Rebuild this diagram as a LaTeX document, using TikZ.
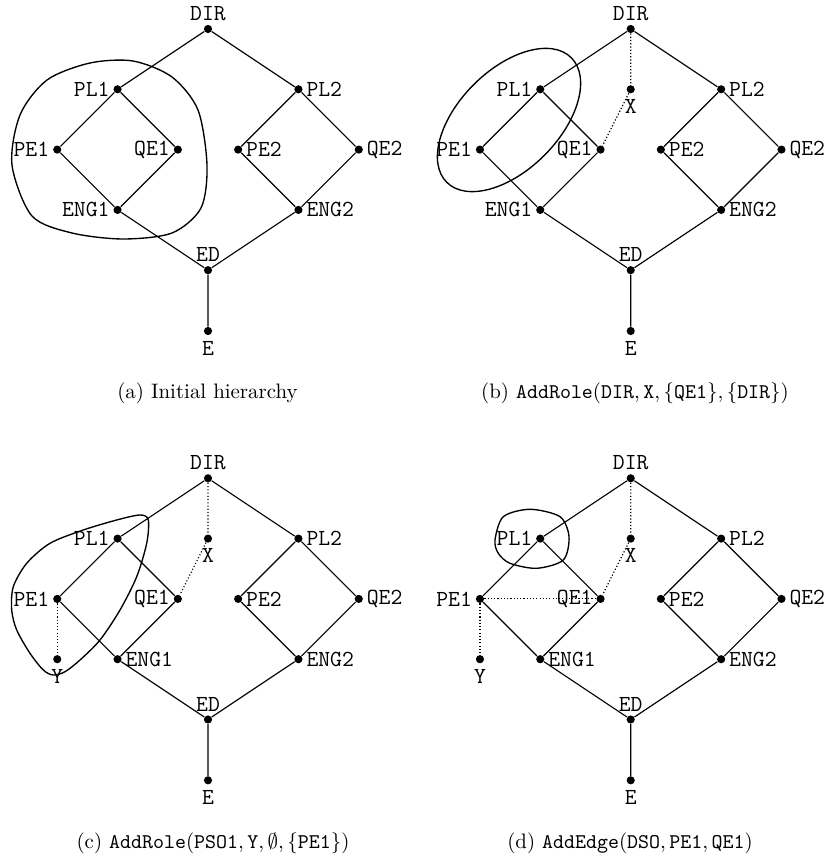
\documentclass[tikz,border=0pt]{standalone}
\tikzset{
  vtx/.style={circle,fill=black,inner sep=0pt,minimum size=3.9pt},
  lbl/.style={font=\fontsize{11}{13}\selectfont\ttfamily,inner sep=0.5pt},
  edg/.style={line width=0.55pt},
  dotl/.style={densely dotted,line width=0.55pt},
  blob/.style={line width=0.65pt},
  captxt/.style={anchor=base,inner sep=0pt},
}
\newcommand\hpanel[2]{%
  \node[vtx,label={[lbl,label distance=1.2pt]above:DIR}] (DIR#1) at (208,29) {};
  \node[vtx,label={[lbl,label distance=1.0pt]left:PL1}] (PL1#1) at (117.55,89.3) {};
  \node[vtx,label={[lbl,label distance=1.0pt]right:PL2}] (PL2#1) at (298.45,89.3) {};
  \node[vtx,label={[lbl,label distance=1.0pt]left:PE1}] (PE1#1) at (57.25,149.6) {};
  \node[vtx,label={[lbl,label distance=1.0pt]left:QE1}] (QE1#1) at (177.85,149.6) {};
  \node[vtx,label={[lbl,label distance=1.0pt]right:PE2}] (PE2#1) at (238.15,149.6) {};
  \node[vtx,label={[lbl,label distance=1.0pt]right:QE2}] (QE2#1) at (358.75,149.6) {};
  \node[vtx,label={[lbl,label distance=1.0pt]#2:ENG1}] (ENG1#1) at (117.55,209.9) {};
  \node[vtx,label={[lbl,label distance=1.0pt]right:ENG2}] (ENG2#1) at (298.45,209.9) {};
  \node[vtx,label={[lbl,label distance=1.2pt]above:ED}] (ED#1) at (208,270.2) {};
  \node[vtx,label={[lbl,label distance=2.0pt]below:E}] (E#1) at (208,331) {};
  \draw[edg] (DIR#1)--(PL1#1) (DIR#1)--(PL2#1) (PL1#1)--(PE1#1) (PL1#1)--(QE1#1)
    (PE1#1)--(ENG1#1) (QE1#1)--(ENG1#1) (PL2#1)--(PE2#1) (PL2#1)--(QE2#1)
    (PE2#1)--(ENG2#1) (QE2#1)--(ENG2#1) (ENG1#1)--(ED#1) (ENG2#1)--(ED#1)
    (ED#1)--(E#1);
}
\newcommand\xnode[1]{%
  \node[vtx,label={[lbl,label distance=2.0pt]below:X}] (X#1) at (208,89.3) {};
  \draw[dotl] (DIR#1)--(X#1) (X#1)--(QE1#1);
}
\newcommand\ynode[1]{%
  \node[vtx,label={[lbl,label distance=2.0pt]below:Y}] (Y#1) at (57.25,209.9) {};
  \draw[dotl] (PE1#1)--(Y#1);
}
\begin{document}
\begin{tikzpicture}[x=0.478pt,y=-0.478pt]
\useasboundingbox (0,0) rectangle (829,857);
% (a)
\begin{scope}
  \hpanel{a}{left}
  \draw[blob] plot[smooth cycle] coordinates {(12,165) (20,115) (47,80) (90,63) (133,61) (172,77) (198,110) (207,165) (201,208) (172,233) (123,239) (72,233) (32,216)};
\end{scope}
% (b)
\begin{scope}[shift={(422.7,0)}]
  \hpanel{b}{left}
  \xnode{b}
  \draw[blob,rotate around={45:(86.3,120)}] (86.3,120) ellipse [x radius=42.1pt,y radius=23.9pt];
\end{scope}
% (c)
\begin{scope}[shift={(0,449.3)}]
  \hpanel{c}{right}
  \xnode{c}
  \ynode{c}
  \draw[blob] plot[smooth cycle] coordinates {(148.3,70.7) (146.7,94) (136.7,127.4) (120,160.7) (100,190.7) (80,210.7) (65,222.4) (53.3,225.7) (43.3,220.7) (30,204) (16.7,180.7) (11.7,160.7) (13.3,137.4) (26.7,114) (50,94) (83.3,80.7) (116.7,70.7) (140,65.7)};
\end{scope}
% (d)
\begin{scope}[shift={(422.7,449.3)}]
  \hpanel{d}{right}
  \xnode{d}
  \ynode{d}
  \draw[dotl] (PE1d)--(QE1d);
  \draw[blob] plot[smooth cycle] coordinates {(72.3,90.7) (80.6,67.4) (107.3,60) (137.3,67.4) (146.3,87.4) (140.6,110.7) (114,119) (87.3,114) (75.6,104)};
\end{scope}
% captions
\node[captxt] (capa) at (207.5,398) {(a) Initial hierarchy};
\node[captxt] (capb) at (635,398) {(b) $\mathtt{AddRole}(\mathtt{DIR},\mathtt{X},\{\mathtt{QE1}\},\{\mathtt{DIR}\})$};
\node[captxt] (capc) at (213,848) {(c) $\mathtt{AddRole}(\mathtt{PSO1},\mathtt{Y},\emptyset,\{\mathtt{PE1}\})$};
\node[captxt] (capd) at (630,848) {(d) $\mathtt{AddEdge}(\mathtt{DSO},\mathtt{PE1},\mathtt{QE1})$};
\end{tikzpicture}
\end{document}
